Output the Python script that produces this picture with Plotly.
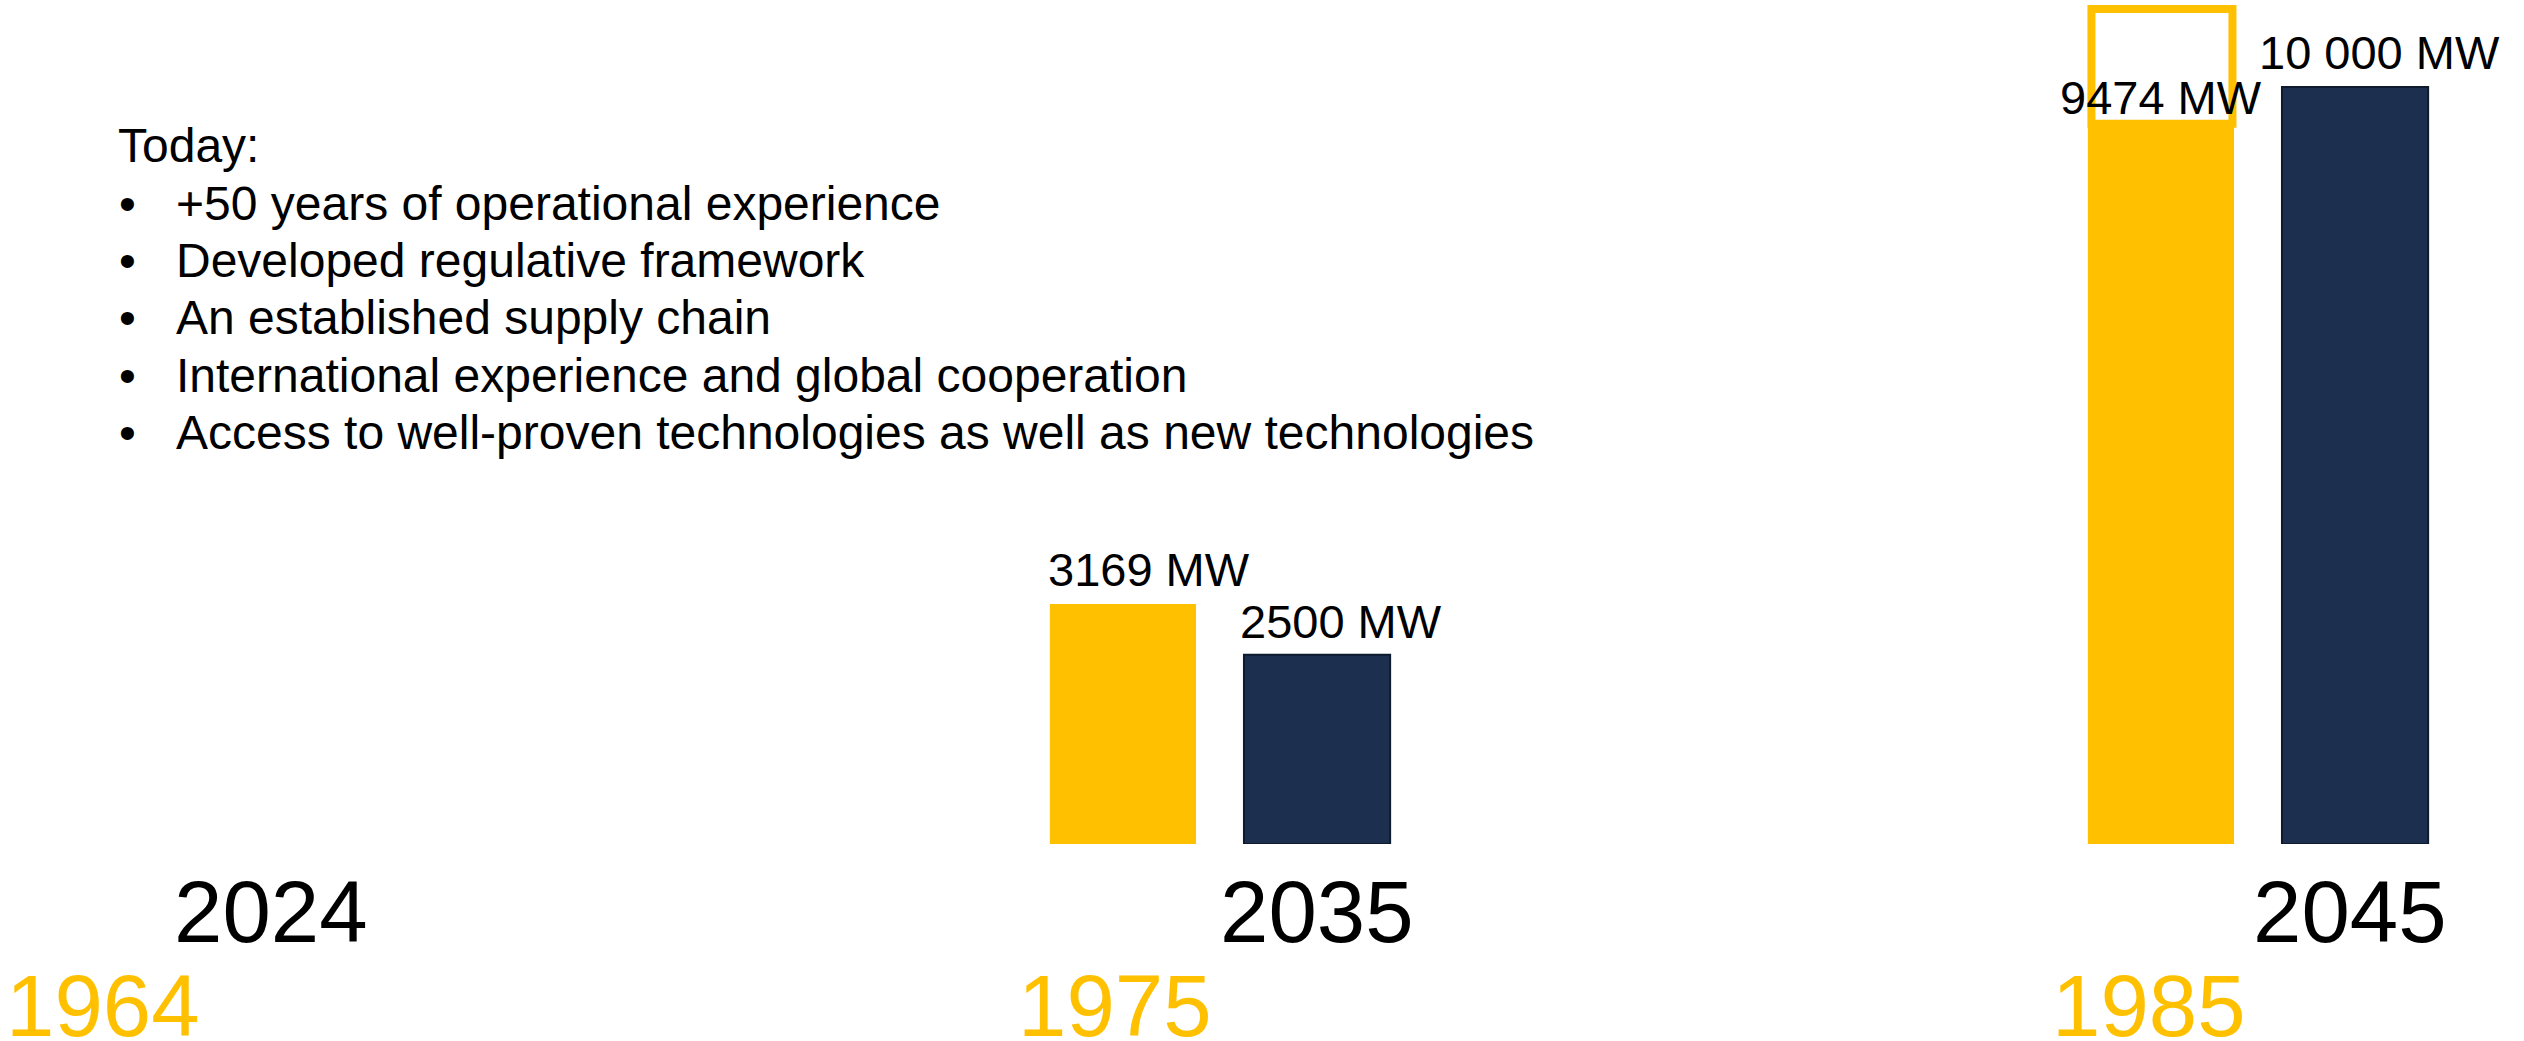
import plotly.graph_objects as go

# ---------------- data ----------------
groups = [0, 1, 2]
years_now = ["2024", "2035", "2045"]
years_past = ["1964", "1975", "1985"]
historic_mw = [None, 3169, 9474]
planned_mw = [None, 2500, 10000]
historic_labels = ["", "3169 MW", "9474 MW"]
planned_labels = ["", "2500 MW", "10 000 MW"]
heading = "Today:"
bullets = [
    "+50 years of operational experience",
    "Developed regulative framework",
    "An established supply chain",
    "International experience and global cooperation",
    "Access to well-proven technologies as well as new technologies",
]

# ---------------- style / layout constants ----------------
W, H = 2524, 1041
PLOT_H = 844                 # plot area height (pixels from top)
YMAX = 11149
YELLOW = "#FFC000"
NAVY = "#1D2F4F"
NAVY_EDGE = "#0E1A2E"
FONT = "Liberation Sans, Arial, sans-serif"
BARGAP = 0.626
BARGROUPGAP = 0.247
PX_PER_X = 1038.0            # pixels per group unit
X0 = 1 - 1220 / PX_PER_X
X1 = 1 + (W - 1220) / PX_PER_X
OFF = (1 - BARGAP) / 4       # bar center offset from group center

def paper_y_for_bottom(pix_y):
    return (PLOT_H - pix_y) / PLOT_H

def paper_x(pix_x):
    return pix_x / W

fig = go.Figure()
fig.add_trace(go.Bar(x=groups, y=historic_mw, marker=dict(color=YELLOW, line=dict(width=0)),
                     name="historic", hoverinfo="skip"))
fig.add_trace(go.Bar(x=groups, y=planned_mw, marker=dict(color=NAVY, line=dict(color=NAVY_EDGE, width=2)),
                     name="planned", hoverinfo="skip"))

ann = []
# value labels
hist_xshift = [0, 26, 0]
hist_yshift = [0, 6, 1]
plan_xshift = [0, 24, 24]
plan_yshift = [0, 5, 6]
for i, g in enumerate(groups):
    if historic_mw[i] is not None:
        ann.append(dict(x=g - OFF, y=historic_mw[i], xref="x", yref="y", text=historic_labels[i],
                        showarrow=False, xanchor="center", yanchor="bottom",
                        xshift=hist_xshift[i], yshift=hist_yshift[i],
                        font=dict(family=FONT, size=47, color="black")))
    if planned_mw[i] is not None:
        ann.append(dict(x=g + OFF, y=planned_mw[i], xref="x", yref="y", text=planned_labels[i],
                        showarrow=False, xanchor="center", yanchor="bottom",
                        xshift=plan_xshift[i], yshift=plan_yshift[i],
                        font=dict(family=FONT, size=47, color="black")))

# year labels
now_shift = [-8, 0, -5]
past_shift = [18, -8, -12]
YS = 87
for i, g in enumerate(groups):
    ann.append(dict(x=g + OFF, y=paper_y_for_bottom(943 + 0.212 * YS + 1), xref="x", yref="paper",
                    text=years_now[i], showarrow=False, xanchor="center", yanchor="bottom",
                    xshift=now_shift[i], font=dict(family=FONT, size=YS, color="black")))
    ann.append(dict(x=g - OFF, y=paper_y_for_bottom(1037 + 0.212 * YS + 1), xref="x", yref="paper",
                    text=years_past[i], showarrow=False, xanchor="center", yanchor="bottom",
                    xshift=past_shift[i], font=dict(family=FONT, size=YS, color=YELLOW)))

# text block
TS = 48
base0, step = 163, 57.4
ann.append(dict(x=paper_x(116), y=paper_y_for_bottom(base0 + 0.212 * TS + 1), xref="paper", yref="paper",
                text=heading, showarrow=False, xanchor="left", yanchor="bottom",
                font=dict(family=FONT, size=TS, color="black")))
for k, line in enumerate(bullets):
    yb = paper_y_for_bottom(base0 + step * (k + 1) + 0.212 * TS + 1)
    ann.append(dict(x=paper_x(117), y=yb, xref="paper", yref="paper", text="•", showarrow=False,
                    xanchor="left", yanchor="bottom", font=dict(family=FONT, size=TS, color="black")))
    ann.append(dict(x=paper_x(174), y=yb, xref="paper", yref="paper", text=line, showarrow=False,
                    xanchor="left", yanchor="bottom", font=dict(family=FONT, size=TS, color="black")))

# outlined box above the 1985 bar
bx = groups[2] - OFF
px = 1 / PX_PER_X
fig.add_shape(type="rect", xref="x", yref="y",
              x0=bx - 69.5 * px, x1=bx + 71.5 * px,
              y0=historic_mw[2] + 40, y1=11030,
              line=dict(color=YELLOW, width=8), fillcolor="rgba(0,0,0,0)", layer="above")

fig.update_layout(
    width=W, height=H,
    margin=dict(l=0, r=0, t=0, b=H - PLOT_H, pad=0),
    paper_bgcolor="white", plot_bgcolor="white",
    barmode="group", bargap=BARGAP, bargroupgap=BARGROUPGAP,
    showlegend=False,
    xaxis=dict(range=[X0, X1], visible=False, fixedrange=True),
    yaxis=dict(range=[0, YMAX], visible=False, fixedrange=True),
    annotations=ann,
)

fig.write_html("out.html", config={"displayModeBar": False},
               post_script="document.body.style.margin='0px';document.body.style.overflow='hidden';")
